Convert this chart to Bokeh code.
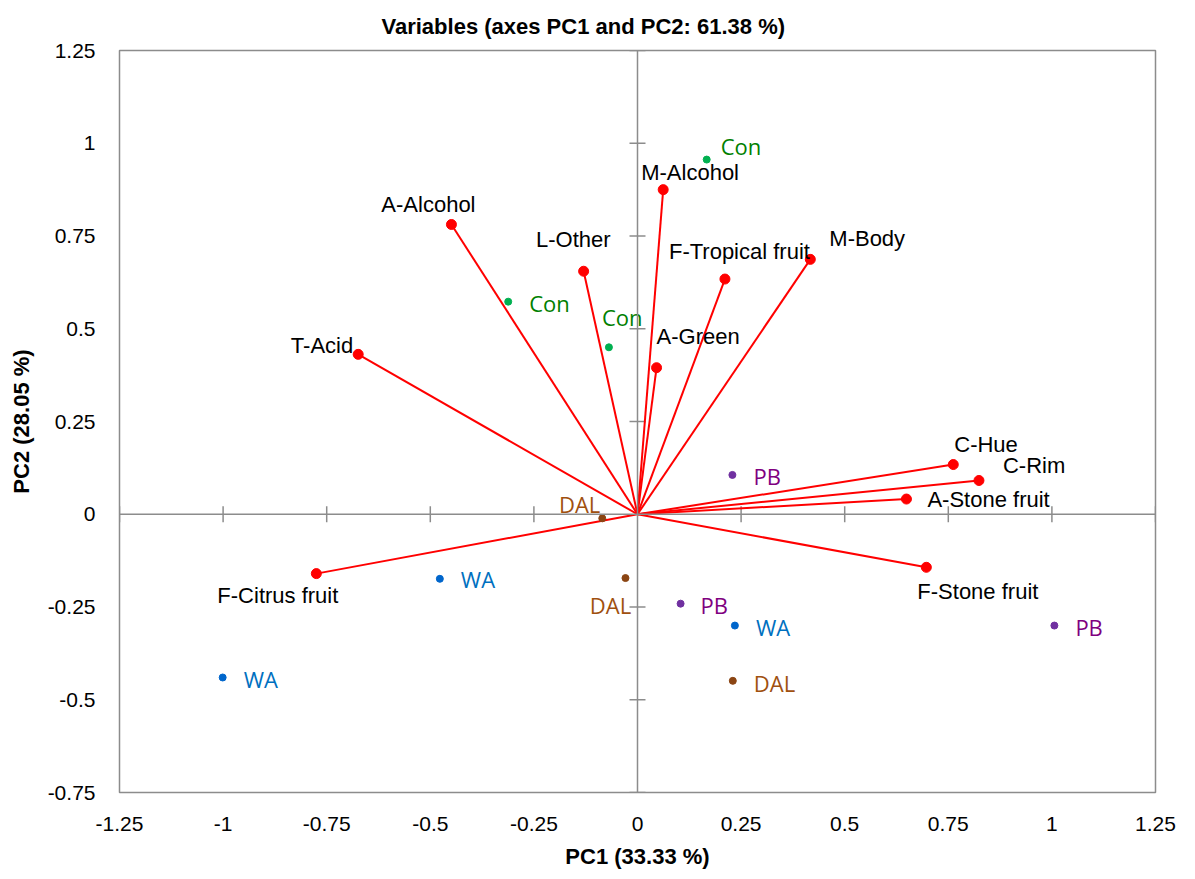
import math

from bokeh.core.properties import value
from bokeh.embed import file_html
from bokeh.models import ColumnDataSource, FixedTicker, Span
from bokeh.plotting import figure
from bokeh.resources import INLINE

# ---- data -------------------------------------------------------------
variables = ["A-Alcohol", "M-Alcohol", "L-Other", "F-Tropical fruit", "M-Body",
             "T-Acid", "A-Green", "C-Hue", "C-Rim", "A-Stone fruit",
             "F-Stone fruit", "F-Citrus fruit"]
var_pc1 = [-0.449, 0.062, -0.130, 0.211, 0.417, -0.674, 0.046, 0.762, 0.824,
           0.649, 0.697, -0.775]
var_pc2 = [0.781, 0.875, 0.655, 0.634, 0.687, 0.431, 0.395, 0.134, 0.091,
           0.041, -0.143, -0.160]

obs_labels = ["Con", "Con", "Con", "PB", "PB", "PB", "DAL", "DAL", "DAL",
              "WA", "WA", "WA"]
obs_pc1 = [0.167, -0.312, -0.069, 0.229, 0.104, 1.006, -0.085, -0.029, 0.230,
           0.235, -0.477, -1.001]
obs_pc2 = [0.956, 0.573, 0.450, 0.106, -0.241, -0.300, -0.011, -0.172, -0.449,
           -0.300, -0.174, -0.440]

x_ticks = [-1.25, -1, -0.75, -0.5, -0.25, 0, 0.25, 0.5, 0.75, 1, 1.25]
x_tick_labels = ["-1.25", "-1", "-0.75", "-0.5", "-0.25", "0", "0.25", "0.5",
                 "0.75", "1", "1.25"]
y_ticks = [-0.75, -0.5, -0.25, 0, 0.25, 0.5, 0.75, 1, 1.25]
y_tick_labels = ["-0.75", "-0.5", "-0.25", "0", "0.25", "0.5", "0.75", "1",
                 "1.25"]

title_text = "Variables (axes PC1 and PC2: 61.38 %)"
x_title = "PC1 (33.33 %)"
y_title = "PC2 (28.05 %)"

# ---- styling ----------------------------------------------------------
SANS = "Liberation Sans"
GREY = "#8C8C8C"
VEC_RED = "#FF0000"
dot_colors = {"Con": "#00B050", "PB": "#7030A0", "DAL": "#8B4513", "WA": "#0066CC"}
txt_colors = {"Con": "#008000", "PB": "#800080", "DAL": "#A0500F", "WA": "#0070C0"}

# label placement (screen pixels from the point, y downwards)
var_dx = [-23, -22, 27, -56, 19, -5, 0, 1, 24, 21, -9, 22]
var_dy = [-20, -17, -32, -28, -21, -9, -31, -20, -15, 0, 24, 22]
var_align = ["center", "left", "right", "left", "left", "right", "left",
             "left", "left", "left", "left", "right"]
obs_dx = [14, 21, -7, 21, 20, 21, -2, -15, 21, 21, 21, 21]
obs_dy = [-14, 1, -30, 1, 1, 1, -14, 27, 2, 1, 0, 2]
obs_align = ["left", "left", "left", "left", "left", "left", "right", "center",
             "left", "left", "left", "left"]

p = figure(width=1195, height=879, x_range=(-1.25, 1.25), y_range=(-0.75, 1.25),
           output_backend="svg", toolbar_location=None)
p.min_border_left = 119
p.min_border_right = 40
p.min_border_top = 50
p.min_border_bottom = 87
p.background_fill_color = "white"
p.border_fill_color = "white"
p.outline_line_color = GREY
p.outline_line_width = 1.5
p.xgrid.visible = False
p.ygrid.visible = False

p.title.text = title_text
p.title.align = "left"
p.title.offset = 262
p.title.text_font = SANS
p.title.text_font_size = "22px"
p.title.text_font_style = "bold"
p.title.text_color = "black"
p.title.standoff = 23

for ax, ticks, labels, lab in ((p.xaxis, x_ticks, x_tick_labels, x_title),
                               (p.yaxis, y_ticks, y_tick_labels, y_title)):
    ax.ticker = FixedTicker(ticks=ticks)
    ax.major_label_overrides = {float(t): s for t, s in zip(ticks, labels)}
    ax.axis_line_color = None
    ax.major_tick_line_color = None
    ax.minor_tick_line_color = None
    ax.major_tick_in = 0
    ax.major_tick_out = 0
    ax.major_label_text_font = SANS
    ax.major_label_text_font_size = "21px"
    ax.major_label_text_color = "black"
    ax.axis_label = lab
    ax.axis_label_text_font = SANS
    ax.axis_label_text_font_size = "22px"
    ax.axis_label_text_font_style = "bold"
    ax.axis_label_text_color = "black"

p.xaxis.major_label_standoff = 24
p.yaxis.major_label_standoff = 24
p.xaxis.axis_label_standoff = 10
p.yaxis.axis_label_standoff = 11

# central axes through the origin, with their tick marks
p.add_layout(Span(location=0, dimension="height", line_color=GREY, line_width=1.5))
p.add_layout(Span(location=0, dimension="width", line_color=GREY, line_width=1.5))
inner_x = [t for t in x_ticks if t != 0]
inner_y = [t for t in y_ticks if t != 0]
p.scatter(inner_x, [0] * len(inner_x), marker="dash", size=16, angle=math.pi / 2,
          line_color=GREY, line_width=1.5)
p.scatter([0] * len(inner_y), inner_y, marker="dash", size=16,
          line_color=GREY, line_width=1.5)

# variable vectors
var_src = ColumnDataSource(dict(x=var_pc1, y=var_pc2, name=variables,
                                dx=var_dx, dy=var_dy, align=var_align,
                                x0=[0] * len(var_pc1), y0=[0] * len(var_pc2)))
p.segment(x0="x0", y0="y0", x1="x", y1="y", source=var_src,
          line_color=VEC_RED, line_width=2)
p.scatter("x", "y", source=var_src, size=10, fill_color=VEC_RED,
          line_color=VEC_RED)

# observations
obs_src = ColumnDataSource(dict(x=obs_pc1, y=obs_pc2, name=obs_labels,
                                dx=obs_dx, dy=obs_dy, align=obs_align,
                                dot=[dot_colors[k] for k in obs_labels],
                                txt=[txt_colors[k] for k in obs_labels]))
p.scatter("x", "y", source=obs_src, size=7, fill_color="dot", line_color="dot")

p.text("x", "y", text="name", source=var_src, x_offset="dx", y_offset="dy",
       text_align="align", text_baseline="alphabetic",
       text_font=value(SANS), text_font_size="22px", text_color="black")
p.text("x", "y", text="name", source=obs_src, x_offset="dx", y_offset="dy",
       text_align="align", text_baseline="alphabetic",
       text_font=value("Open Sans"), text_font_size="22px", text_color="txt")

open("out.html", "w").write(file_html(p, INLINE))
